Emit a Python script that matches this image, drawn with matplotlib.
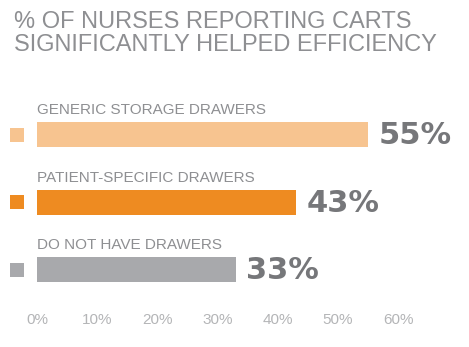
import matplotlib
matplotlib.use("Agg")
import matplotlib.pyplot as plt

categories = ["GENERIC STORAGE DRAWERS", "PATIENT-SPECIFIC DRAWERS", "DO NOT HAVE DRAWERS"]
values = [55, 43, 33]
value_labels = ["55%", "43%", "33%"]
colors = ["#f7c490", "#ee8b21", "#a8a9ac"]
ticks = [0, 10, 20, 30, 40, 50, 60]
tick_labels = ["0%", "10%", "20%", "30%", "40%", "50%", "60%"]
title = "% OF NURSES REPORTING CARTS\nSIGNIFICANTLY HELPED EFFICIENCY"

plt.rcParams["font.family"] = ["Liberation Sans", "DejaVu Sans"]

W, H = 469, 347
fig = plt.figure(figsize=(W / 100, H / 100), dpi=100)
fig.patch.set_facecolor("white")

# axes placed in pixel terms
left, right = 37, 398
top, bottom = 95, 300
ax = fig.add_axes([left / W, (H - bottom) / H, (right - left) / W, (bottom - top) / H])

pitch = 67.5
first = 134.5
ax.set_xlim(0, 60)
ax.set_ylim((bottom - first) / pitch, (top - first) / pitch)

ypos = list(range(len(values)))
ax.barh(ypos, values, height=25 / pitch, color=colors, left=0)

for i, v in enumerate(values):
    ax.text(0, i - 0.36, categories[i], fontsize=11, color="#8e8f92",
            va="center", ha="left")
    ax.text(v + 1.8, i + 0.02, value_labels[i], fontsize=22, fontweight="bold",
            family="DejaVu Sans", color="#76777a", va="center", ha="left")
    ax.scatter([-3.3], [i], marker="s", s=100, color=colors[i], clip_on=False,
               linewidths=0)

ax.set_xticks(ticks)
ax.set_xticklabels(tick_labels, fontsize=11, color="#b4b5b7")
ax.set_yticks([])
ax.tick_params(axis="x", length=0, pad=9)
for s in ax.spines.values():
    s.set_visible(False)

fig.text(14 / W, 1 - 11 / H, title, fontsize=17, color="#8e8f92",
         va="top", ha="left", linespacing=1.05)

fig.savefig("out.png", dpi=100)
